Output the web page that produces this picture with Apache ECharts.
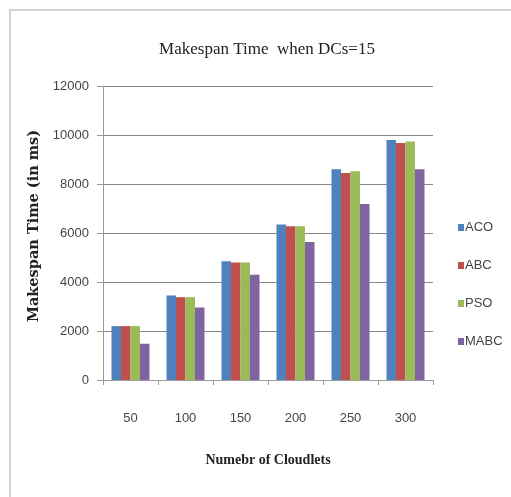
<!DOCTYPE html>
<html>
<head>
<meta charset="utf-8">
<title>Makespan Time when DCs=15</title>
<script src="https://cdn.jsdelivr.net/npm/echarts@6/dist/echarts.min.js"></script>
<style>
  html, body { margin: 0; padding: 0; background: #ffffff; }
  #chart { width: 511px; height: 497px; }
</style>
</head>
<body>
<div id="chart"></div>
<script>
// Number of cloudlets on the x axis
const categories = ['50', '100', '150', '200', '250', '300'];

// Makespan time (ms) for each algorithm
const aco  = [2200, 3450, 4850, 6350, 8600, 9800];
const abc  = [2200, 3380, 4800, 6280, 8450, 9670];
const pso  = [2200, 3380, 4800, 6280, 8520, 9730];
const mabc = [1480, 2960, 4300, 5630, 7180, 8600];

const yTicks = [0, 2000, 4000, 6000, 8000, 10000, 12000];

const seriesNames = ['ACO', 'ABC', 'PSO', 'MABC'];
const seriesData = [aco, abc, pso, mabc];
const colors = ['#4F81BD', '#C0504D', '#9BBB59', '#8064A2'];

const chart = echarts.init(document.getElementById('chart'), null, { renderer: 'canvas' });

const tickFont = '"Liberation Sans", Arial, sans-serif';
const serifFont = '"Liberation Serif", "DejaVu Serif", serif';

chart.setOption({
  animation: false,
  backgroundColor: '#ffffff',
  color: colors,
  title: {
    text: 'Makespan Time  when DCs=15',
    left: 262,
    textAlign: 'center',
    top: 36,
    textStyle: { fontFamily: serifFont, fontSize: 17, fontWeight: 'normal', color: '#222' }
  },
  graphic: [{
    type: 'rect',
    shape: { x: 10, y: 10, width: 520, height: 510 },
    style: { fill: 'none', stroke: '#d4d4d4', lineWidth: 2 },
    silent: true
  }],
  legend: {
    orient: 'vertical',
    left: 453,
    top: 216,
    itemWidth: 6,
    itemHeight: 7,
    itemGap: 25,
    icon: 'rect',
    textStyle: { fontFamily: tickFont, fontSize: 13, color: '#444', padding: [0, 0, 0, -4] },
    data: seriesNames
  },
  grid: { left: 103, right: 78, top: 86, bottom: 117 },
  xAxis: {
    type: 'category',
    data: categories,
    name: 'Numebr of Cloudlets',
    nameLocation: 'middle',
    nameGap: 73,
    nameTextStyle: { fontFamily: serifFont, fontSize: 14, fontWeight: 'bold', color: '#222' },
    axisLine: { lineStyle: { color: '#9a9a9a', width: 1 } },
    axisTick: { show: true, length: 5, lineStyle: { color: '#9a9a9a' } },
    axisLabel: { fontFamily: tickFont, fontSize: 13, color: '#444', margin: 32 }
  },
  yAxis: {
    type: 'value',
    min: yTicks[0],
    max: yTicks[yTicks.length - 1],
    interval: 2000,
    name: 'Makespan Time (in ms)',
    nameLocation: 'middle',
    nameGap: 58,
    nameTextStyle: {
      fontFamily: '"DejaVu Serif", "Liberation Serif", serif',
      fontSize: 14.5, fontWeight: 'bold', color: '#222',
      padding: [0, 0, 0, 14]
    },
    axisLine: { show: true, lineStyle: { color: '#9a9a9a', width: 1 } },
    axisTick: { show: true, length: 6, lineStyle: { color: '#9a9a9a' } },
    axisLabel: {
      fontFamily: tickFont, fontSize: 13, color: '#444', margin: 14,
      formatter: (v) => String(v)
    },
    splitLine: { show: true, lineStyle: { color: '#888888', width: 1 } }
  },
  series: seriesNames.map((name, i) => ({
    name: name,
    type: 'bar',
    data: seriesData[i],
    barWidth: 9.5,
    barGap: '0%',
    itemStyle: { color: colors[i] }
  }))
});
</script>
</body>
</html>
